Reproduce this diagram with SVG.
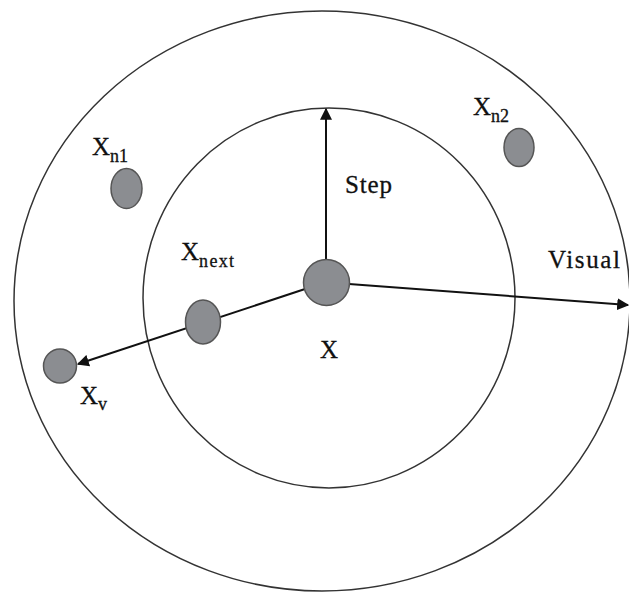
<svg xmlns="http://www.w3.org/2000/svg" width="629" height="592" viewBox="0 0 629 592">
<style>
.ring{fill:none;stroke:#333;stroke-width:1.5}
.node{fill:#8b8d91;stroke:#555;stroke-width:1.5}
.edge{stroke:#111;stroke-width:2;fill:none}
text{font-family:"Liberation Serif","DejaVu Serif",serif;fill:#111;stroke:#111;stroke-width:0.3}
.lbl{font-size:25px}
.sub{font-size:18px}
</style>
<defs>
<marker id="arrL" viewBox="0 0 10 10" refX="9" refY="5" markerWidth="6" markerHeight="6" orient="auto">
<path d="M0,0 L10,5 L0,10 z" fill="#111"/>
</marker>
</defs>
<g id="rings">
<ellipse class="ring" cx="322" cy="301" rx="308" ry="290"/>
<ellipse class="ring" cx="329" cy="298" rx="186" ry="190"/>
</g>
<g id="connectors">
<line class="edge" x1="326" y1="262" x2="326" y2="109" marker-end="url(#arrL)"/>
<line class="edge" x1="349" y1="284" x2="628" y2="305" marker-end="url(#arrL)"/>
<line class="edge" x1="305" y1="289" x2="78" y2="364" marker-end="url(#arrL)"/>
</g>
<g id="node-x">
<circle class="node" cx="326.5" cy="282.5" r="23"/>
<text class="lbl" x="320" y="358">X</text>
</g>
<g id="node-xnext">
<ellipse class="node" cx="203" cy="322" rx="17.5" ry="22"/>
<text x="181" y="260"><tspan class="lbl">X</tspan><tspan class="sub" dy="7" textLength="35">next</tspan></text>
</g>
<g id="node-xv">
<ellipse class="node" cx="60" cy="366" rx="16.5" ry="17"/>
<text x="80" y="404"><tspan class="lbl">X</tspan><tspan class="sub" dy="6">v</tspan></text>
</g>
<g id="node-xn1">
<ellipse class="node" cx="126.5" cy="188.5" rx="15.5" ry="20"/>
<text x="92" y="155"><tspan class="lbl">X</tspan><tspan class="sub" dy="7">n1</tspan></text>
</g>
<g id="node-xn2">
<ellipse class="node" cx="519" cy="147.5" rx="15" ry="19"/>
<text x="473" y="115"><tspan class="lbl">X</tspan><tspan class="sub" dy="7">n2</tspan></text>
</g>
<g id="labels">
<text class="lbl" x="345" y="193" textLength="47">Step</text>
<text class="lbl" x="548" y="268" textLength="72">Visual</text>
</g>
</svg>
